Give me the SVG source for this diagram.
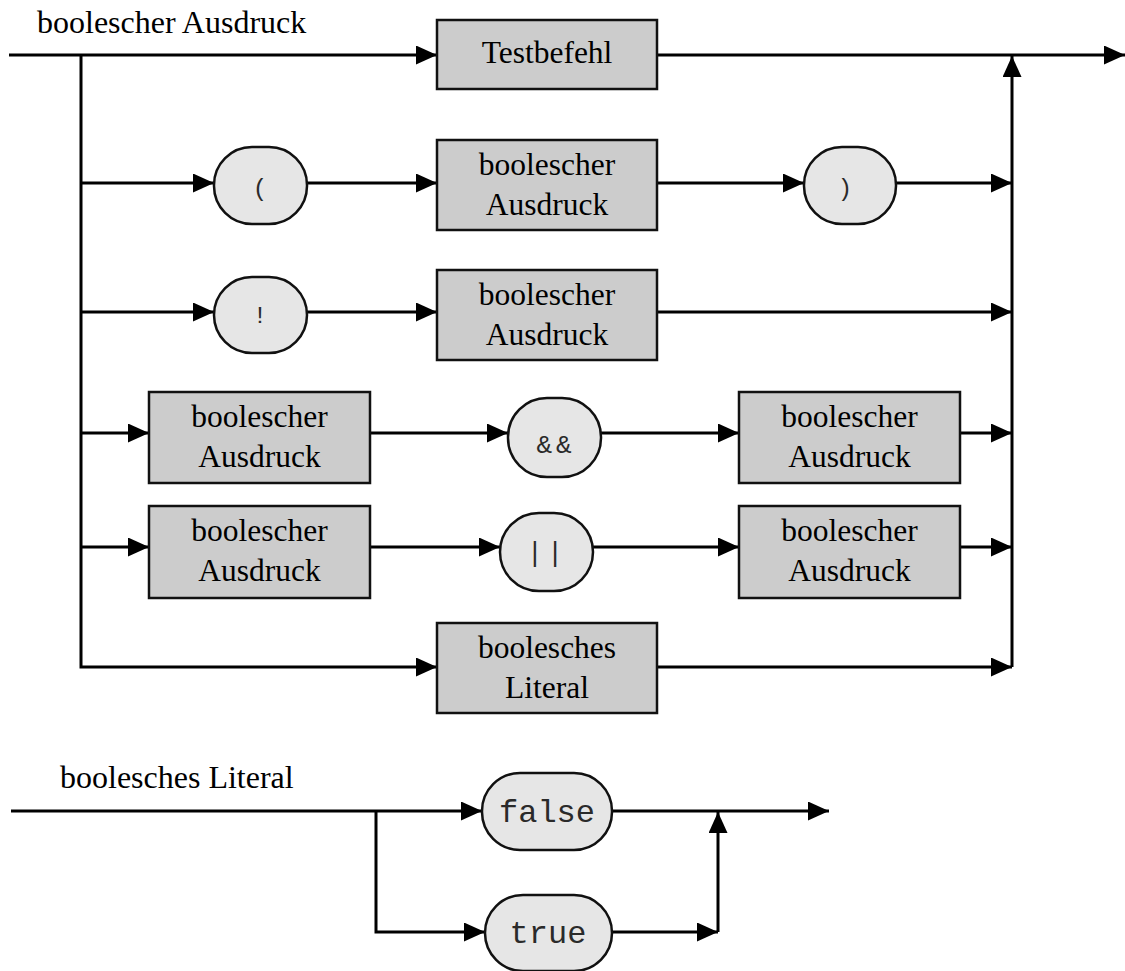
<svg xmlns="http://www.w3.org/2000/svg" width="1125" height="971" viewBox="0 0 1125 971">
  <style>
    .line { fill: none; stroke: #000; stroke-width: 3; }
    .nt rect { fill: #cccccc; stroke: #111; stroke-width: 2.5; }
    .t rect { fill: #e6e6e6; stroke: #111; stroke-width: 2.5; }
    .serif { font-family: "Liberation Serif", "Times New Roman", serif; font-size: 31.5px; fill: #000; text-anchor: middle; }
    .title { font-family: "Liberation Serif", "Times New Roman", serif; font-size: 32px; fill: #000; }
    .mono { font-family: "Liberation Mono", "Courier New", monospace; fill: #2a2a2a; text-anchor: middle; }
    .op { font-size: 24px; letter-spacing: 4px; }
    .amp { font-size: 26px; letter-spacing: 4px; }
    .bar { font-size: 27px; letter-spacing: 4px; }
    .kw { font-size: 32px; }
  </style>
  <defs>
    <marker id="arrow" markerUnits="userSpaceOnUse" markerWidth="21" markerHeight="19" refX="21" refY="9.5" orient="auto">
      <path d="M0,0 L21,9.5 L0,19 z" fill="#000"/>
    </marker>
  </defs>

  <!-- rule titles -->
  <text class="title" x="37" y="33">boolescher Ausdruck</text>
  <text class="title" x="60" y="788">boolesches Literal</text>

  <!-- connectors -->
  <g id="connectors">
    <!-- boolescher Ausdruck -->
    <path class="line" d="M9,55 H437" marker-end="url(#arrow)"/>
    <path class="line" d="M657,55 H1125" marker-end="url(#arrow)"/>
    <path class="line" d="M81,55 V667 H437" marker-end="url(#arrow)"/>
    <path class="line" d="M657,667 H1012" marker-end="url(#arrow)"/>
    <path class="line" d="M1012,667 V56" marker-end="url(#arrow)"/>

    <!-- ( Ausdruck ) -->
    <path class="line" d="M81,183 H214" marker-end="url(#arrow)"/>
    <path class="line" d="M307,183 H437" marker-end="url(#arrow)"/>
    <path class="line" d="M657,183 H804" marker-end="url(#arrow)"/>
    <path class="line" d="M896,183 H1012" marker-end="url(#arrow)"/>

    <!-- ! Ausdruck -->
    <path class="line" d="M81,312 H214" marker-end="url(#arrow)"/>
    <path class="line" d="M307,312 H437" marker-end="url(#arrow)"/>
    <path class="line" d="M657,312 H1012" marker-end="url(#arrow)"/>

    <!-- Ausdruck && Ausdruck -->
    <path class="line" d="M81,433 H149" marker-end="url(#arrow)"/>
    <path class="line" d="M370,433 H508" marker-end="url(#arrow)"/>
    <path class="line" d="M601,433 H739" marker-end="url(#arrow)"/>
    <path class="line" d="M960,433 H1012" marker-end="url(#arrow)"/>

    <!-- Ausdruck || Ausdruck -->
    <path class="line" d="M81,547 H149" marker-end="url(#arrow)"/>
    <path class="line" d="M370,547 H500" marker-end="url(#arrow)"/>
    <path class="line" d="M593,547 H739" marker-end="url(#arrow)"/>
    <path class="line" d="M960,547 H1012" marker-end="url(#arrow)"/>

    <!-- boolesches Literal -->
    <path class="line" d="M11,811 H482" marker-end="url(#arrow)"/>
    <path class="line" d="M376,811 V932 H485" marker-end="url(#arrow)"/>
    <path class="line" d="M612,811 H829" marker-end="url(#arrow)"/>
    <path class="line" d="M612,932 H718" marker-end="url(#arrow)"/>
    <path class="line" d="M718,932 V812" marker-end="url(#arrow)"/>
  </g>

  <!-- nodes -->
  <g id="testbefehl" class="nt">
    <rect x="437" y="20" width="220" height="69"/>
    <text class="serif" x="547" y="63">Testbefehl</text>
  </g>

  <g id="paren-open" class="t">
    <rect x="214" y="147" width="93" height="77" rx="38" ry="38"/>
    <text class="mono op" x="262" y="196">(</text>
  </g>
  <g id="paren-expr" class="nt">
    <rect x="437" y="140" width="220" height="90"/>
    <text class="serif" x="547" y="175">boolescher</text>
    <text class="serif" x="547" y="215">Ausdruck</text>
  </g>
  <g id="paren-close" class="t">
    <rect x="804" y="147" width="92" height="77" rx="38" ry="38"/>
    <text class="mono op" x="847" y="196">)</text>
  </g>

  <g id="not-op" class="t">
    <rect x="214" y="277" width="93" height="76" rx="38" ry="38"/>
    <text class="mono op" x="262" y="323">!</text>
  </g>
  <g id="not-expr" class="nt">
    <rect x="437" y="270" width="220" height="90"/>
    <text class="serif" x="547" y="305">boolescher</text>
    <text class="serif" x="547" y="345">Ausdruck</text>
  </g>

  <g id="and-left" class="nt">
    <rect x="149" y="392" width="221" height="91"/>
    <text class="serif" x="259.5" y="427">boolescher</text>
    <text class="serif" x="259.5" y="467">Ausdruck</text>
  </g>
  <g id="and-op" class="t">
    <rect x="508" y="398" width="93" height="79" rx="39" ry="39"/>
    <text class="mono amp" x="556" y="453">&amp;&amp;</text>
  </g>
  <g id="and-right" class="nt">
    <rect x="739" y="392" width="221" height="91"/>
    <text class="serif" x="849.5" y="427">boolescher</text>
    <text class="serif" x="849.5" y="467">Ausdruck</text>
  </g>

  <g id="or-left" class="nt">
    <rect x="149" y="506" width="221" height="92"/>
    <text class="serif" x="259.5" y="541">boolescher</text>
    <text class="serif" x="259.5" y="581">Ausdruck</text>
  </g>
  <g id="or-op" class="t">
    <rect x="500" y="513" width="93" height="78" rx="39" ry="39"/>
    <text class="mono bar" x="547" y="561">||</text>
  </g>
  <g id="or-right" class="nt">
    <rect x="739" y="506" width="221" height="92"/>
    <text class="serif" x="849.5" y="541">boolescher</text>
    <text class="serif" x="849.5" y="581">Ausdruck</text>
  </g>

  <g id="literal-ref" class="nt">
    <rect x="437" y="623" width="220" height="90"/>
    <text class="serif" x="547" y="658">boolesches</text>
    <text class="serif" x="547" y="698">Literal</text>
  </g>

  <g id="false" class="t">
    <rect x="482" y="773" width="130" height="77" rx="38" ry="38"/>
    <text class="mono kw" x="547" y="822">false</text>
  </g>
  <g id="true" class="t">
    <rect x="485" y="895" width="127" height="76" rx="38" ry="38"/>
    <text class="mono kw" x="548" y="943">true</text>
  </g>
</svg>
